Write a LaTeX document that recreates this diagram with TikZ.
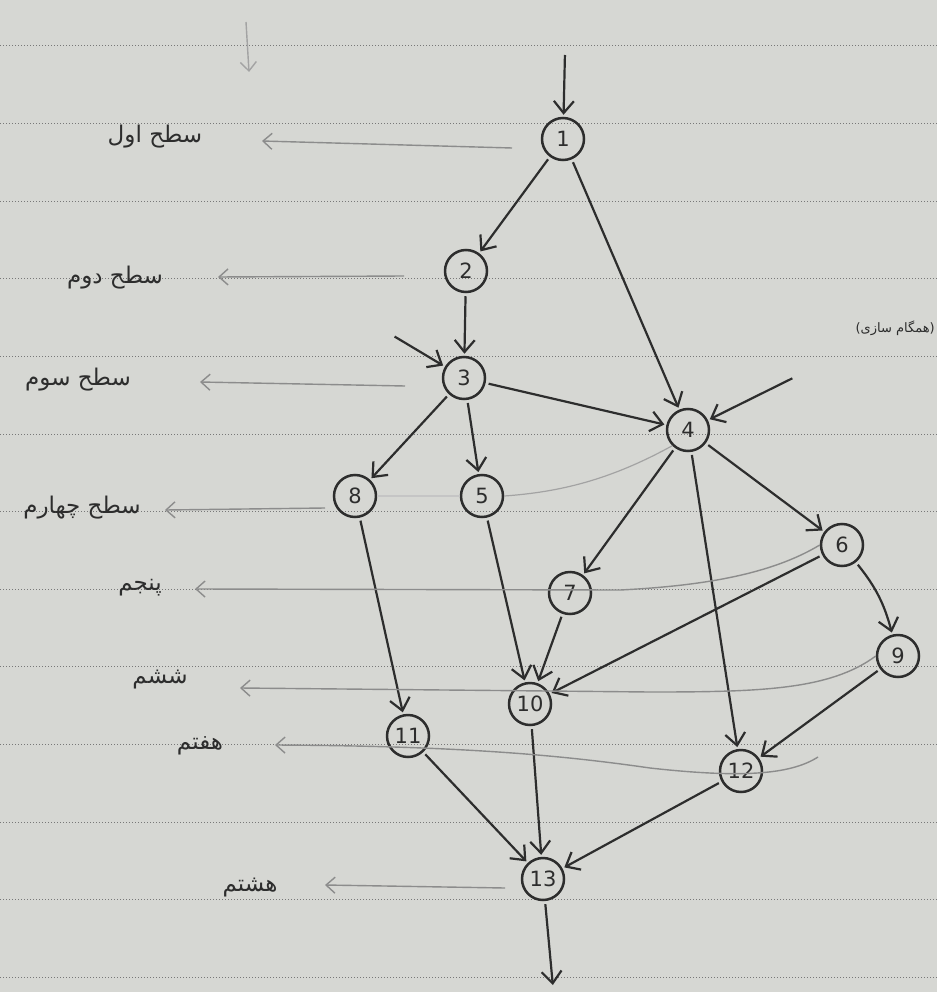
\documentclass[tikz,border=0pt]{standalone}
\usepackage{fontspec}
\usetikzlibrary{arrows.meta}
\newfontfamily\arabicfont[Script=Arabic]{DejaVu Sans}
\setsansfont{DejaVu Sans}
\TeXXeTstate=1
\definecolor{paper}{RGB}{214,215,211}
\definecolor{ink}{RGB}{45,45,45}
\definecolor{rule}{RGB}{120,120,120}
\definecolor{faint}{RGB}{140,140,140}
\tikzset{
  st/.style={circle,draw=ink,line width=2.5pt,minimum size=42pt,inner sep=0pt,font=\sffamily\fontsize{21}{21}\selectfont,text=ink},
  ed/.style={draw=ink,line width=2.2pt,-{Straight Barb[length=12pt,width=20pt,line width=2.2pt]},shorten >=2pt,shorten <=3pt},
  lv/.style={draw=faint,line width=1.4pt,-{Straight Barb[length=9pt,width=16pt,line width=1.4pt]}},
  gc/.style={draw=faint!80,line width=1.2pt},
  lbl/.style={font=\arabicfont\fontsize{23}{23}\selectfont,text=ink}
}
\begin{document}
\begin{tikzpicture}[x=1pt,y=-1pt]
\useasboundingbox (0,0) rectangle (937,992);
\fill[paper] (0,0) rectangle (937,992);
% ruled lines
\foreach \k in {0,...,12}{
  \draw[rule,line width=1pt,dotted] (0,{46+77.6*\k}) -- (937,{46+77.6*\k});
}
% nodes
\node[st] (n1) at (563,139) {1};
\node[st] (n2) at (466,271) {2};
\node[st] (n3) at (464,378) {3};
\node[st] (n4) at (688,430) {4};
\node[st] (n5) at (482,496) {5};
\node[st] (n8) at (355,496) {8};
\node[st] (n6) at (842,545) {6};
\node[st] (n7) at (570,593) {7};
\node[st] (n9) at (898,656) {9};
\node[st] (n10) at (530,704) {10};
\node[st] (n11) at (408,736) {11};
\node[st] (n12) at (741,771) {12};
\node[st] (n13) at (543,879) {13};
% free ends
\coordinate (tin) at (565,52);
\coordinate (tout) at (553,987);
\coordinate (e3) at (392,335);
\coordinate (e4) at (795,377);
\coordinate (tl1) at (246,22);
\coordinate (tl2) at (249,72);
% edges
\draw[ed] (tin) -- (n1);
\draw[ed] (n1) -- (n2);
\draw[ed] (n1) -- (n4);
\draw[ed] (n2) -- (n3);
\draw[ed] (e3) -- (n3);
\draw[ed] (n3) -- (n4);
\draw[ed] (n3) -- (n8);
\draw[ed] (n3) -- (n5);
\draw[ed] (e4) -- (n4);
\draw[ed] (n4) -- (n7);
\draw[ed] (n4) -- (n6);
\draw[ed] (n4) -- (n12);
\draw[ed] (n8) -- (n11);
\draw[ed] (n5) -- (n10);
\draw[ed] (n7) -- (n10);
\draw[ed] (n6) -- (n10);
\draw[ed] (n6) to[bend left=12] (n9);
\draw[ed] (n9) -- (n12);
\draw[ed] (n11) -- (n13);
\draw[ed] (n10) -- (n13);
\draw[ed] (n12) -- (n13);
\draw[ed] (n13) -- (tout);
\draw[lv,draw=faint!80] (tl1) -- (tl2);
% level guide curves and arrows
\coordinate (a1s) at (512,148); \coordinate (a1e) at (262,141);
\coordinate (a2s) at (404,276); \coordinate (a2e) at (218,277);
\coordinate (a3s) at (405,386); \coordinate (a3e) at (200,382);
\coordinate (a4s) at (325,508); \coordinate (a4e) at (165,510);
\coordinate (a5e) at (195,589);
\coordinate (a6e) at (240,688);
\coordinate (a7e) at (275,745);
\coordinate (a8s) at (505,888); \coordinate (a8e) at (325,885);
\draw[lv] (a1s) -- (a1e);
\draw[lv] (a2s) -- (a2e);
\draw[lv] (a3s) -- (a3e);
\draw[gc] (n4.south west) .. controls (610,480) and (560,492) .. (n5.east);
\draw[gc,draw=faint!50] (n5.west) -- (n8.east);
\draw[lv] (a4s) -- (a4e);
\draw[lv] (n6.west) .. controls (770,575) and (700,586) .. (620,590) -- (a5e);
\draw[lv] (n9.west) .. controls (830,690) and (760,692) .. (650,692) -- (a6e);
\coordinate (c7) at (818,757);
\draw[lv] (c7) .. controls (790,775) and (740,778) .. (650,768) .. controls (560,755) and (460,746) .. (a7e);
\draw[lv] (a8s) -- (a8e);
% labels
\node[lbl] (l1) at (155,137) {\beginR سطح اول\endR};
\node[lbl] (l2) at (115,278) {\beginR سطح دوم\endR};
\node[lbl] (l3) at (78,380) {\beginR سطح سوم\endR};
\node[lbl] (l4) at (82,508) {\beginR سطح چهارم\endR};
\node[lbl] (l5) at (140,588) {\beginR پنجم\endR};
\node[lbl] (l6) at (160,680) {\beginR ششم\endR};
\node[lbl] (l7) at (200,746) {\beginR هفتم\endR};
\node[lbl] (l8) at (250,888) {\beginR هشتم\endR};
\node[lbl,font=\arabicfont\fontsize{13}{13}\selectfont,anchor=east,inner sep=1pt] (lt) at (936,328) {\beginR (همگام سازی)\endR};
\end{tikzpicture}
\end{document}
